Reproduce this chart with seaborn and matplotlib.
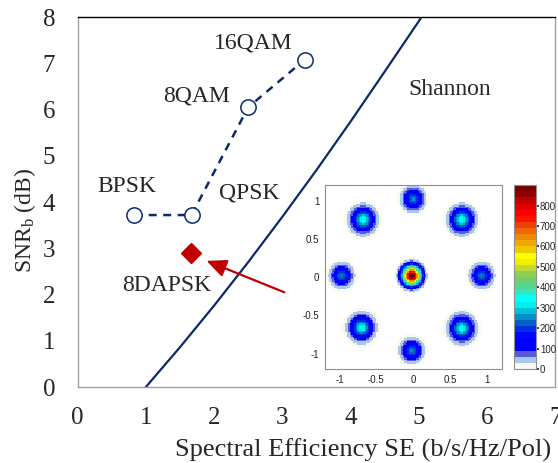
import numpy as np
import pandas as pd
import seaborn as sns
import matplotlib.pyplot as plt
from matplotlib.colors import ListedColormap

# modulation formats (measured)
fmt_names = ['BPSK', 'QPSK', '8QAM', '16QAM']
fmt_se = [0.83, 1.67, 2.5, 3.33]
fmt_snr = [3.72, 3.72, 6.05, 7.08]

# 8DAPSK point
dapsk_se = [1.66]
dapsk_snr = [2.9]

# Shannon limit
shannon_se = [1.0, 1.5, 2.0, 2.5, 3.0, 3.5, 4.0, 4.5, 5.0, 5.5]
shannon_snr = [0.0, 0.86, 1.76, 2.70, 3.68, 4.69, 5.74, 6.82, 7.91, 9.06]

# inset constellation: cluster centres, peak counts, widths
clu_x = [0.0, -0.68, 0.66, -0.97, -0.02, 0.93, -0.70, 0.66, -0.02]
clu_y = [1.02, 0.75, 0.75, 0.02, 0.02, 0.02, -0.66, -0.67, -0.96]
clu_peak = [260, 350, 350, 250, 890, 250, 340, 350, 250]
clu_sig = [0.12, 0.135, 0.135, 0.12, 0.122, 0.12, 0.135, 0.135, 0.12]
clu_shape = [1.8, 1.8, 1.8, 1.8, 2.2, 1.8, 1.8, 1.8, 1.8]
cbar_ticks = [0, 100, 200, 300, 400, 500, 600, 700, 800]

# colour bar levels, 30 counts each, 0..900
level_cols = ['#fdf8ec', '#a8c8f0', '#5a5ad6', '#0000ff', '#0000ff', '#0008f8',
              '#0030e0', '#0060c8', '#0090c8', '#00c0d8', '#00f0f0', '#00ffff',
              '#30e8c0', '#50d890', '#70d070', '#90d050', '#c0d838', '#f0f000',
              '#ffff00', '#f0c800', '#f0a800', '#f08800', '#f06800', '#f04000',
              '#ff1000', '#ff0000', '#e00000', '#c00000', '#900000', '#780000']

navy = '#0c2a6a'
darkred = '#c00000'

sns.set_theme(style='white')
plt.rcParams['font.family'] = ['Liberation Serif', 'DejaVu Serif']
plt.rcParams['mathtext.fontset'] = 'custom'
plt.rcParams['mathtext.rm'] = 'Liberation Serif'
plt.rcParams['mathtext.it'] = 'Liberation Serif:italic'

fig = plt.figure(figsize=(5.58, 4.63), dpi=100)
ax = fig.add_axes([0.139, 0.164, 0.856, 0.799])

df_fmt = pd.DataFrame({'SE': fmt_se, 'SNR': fmt_snr})
df_sh = pd.DataFrame({'SE': shannon_se, 'SNR': shannon_snr})

sns.lineplot(data=df_sh, x='SE', y='SNR', ax=ax, color=navy, lw=1.6)
sns.lineplot(data=df_fmt, x='SE', y='SNR', ax=ax, color=navy, lw=1.8,
             linestyle=(0, (3.2, 2.6)), marker='o', markersize=11,
             markerfacecolor='white', markeredgecolor=navy, markeredgewidth=1.1)
ax.plot(dapsk_se, dapsk_snr, marker='D', ms=10.5, color=darkred, ls='none')

ax.annotate('', xy=(1.89, 2.73), xytext=(3.03, 2.05),
            arrowprops=dict(arrowstyle='-|>,head_length=1.0,head_width=0.45',
                            color=darkred, lw=1.6, shrinkA=0, shrinkB=0))

lab_pos = {'BPSK': (0.72, 4.33), 'QPSK': (2.52, 4.2), '8QAM': (1.75, 6.3),
           '16QAM': (2.57, 7.45)}
for name in fmt_names:
    ax.text(*lab_pos[name], name, fontsize=17, ha='center', va='center')
ax.text(1.3, 2.2, '8DAPSK', fontsize=17, ha='center', va='center')
ax.text(5.45, 6.43, 'Shannon', fontsize=17, ha='center', va='center')

ax.set_xlim(0, 7)
ax.set_ylim(0, 8)
ax.set_xticks(range(8))
ax.set_yticks(range(9))
ax.tick_params(labelsize=18, length=0, pad=14)
ax.tick_params(axis='y', pad=16)
ax.set_xlabel('Spectral Efficiency SE (b/s/Hz/Pol)', fontsize=19)
ax.xaxis.set_label_coords(0.597, -0.138)
ax.set_ylabel('SNR$_{\\rm b}$ (dB)', fontsize=17)
ax.yaxis.set_label_coords(-0.083, 0.45)
for s in ['left', 'bottom', 'right']:
    ax.spines[s].set_color('#a0a0a0')
ax.spines['top'].set_color('black')
for s in ax.spines.values():
    s.set_linewidth(1.0)

# inset: constellation density
edges = np.linspace(-1.2, 1.2, 121)
cent = (edges[:-1] + edges[1:]) / 2
gx, gy = np.meshgrid(cent, cent[::-1])
dens = np.zeros_like(gx)
for cx, cy, pk, sg, p in zip(clu_x, clu_y, clu_peak, clu_sig, clu_shape):
    r = np.sqrt((gx - cx) ** 2 + (gy - cy) ** 2)
    dens += pk * np.exp(-(r / sg) ** p)
dens = np.where(dens < 14, np.nan, dens)

cmap = ListedColormap(level_cols)

iax = fig.add_axes([0.582, 0.203, 0.317, 0.397])
cax = fig.add_axes([0.921, 0.203, 0.039, 0.397])
sns.heatmap(dens, ax=iax, cbar_ax=cax, cmap=cmap, vmin=0, vmax=900,
            xticklabels=False, yticklabels=False)
iax.set_facecolor('white')
n = len(cent)
tv = [-1, -0.5, 0, 0.5, 1]
tl = ['-1', '-0.5', '0', '0.5', '1']
iax.set_xticks([(v + 1.2) / 2.4 * n for v in tv])
iax.set_xticklabels(tl)
iax.set_yticks([(1.2 - v) / 2.4 * n for v in tv])
iax.set_yticklabels(tl, rotation=0)
iax.tick_params(labelsize=7, length=2, pad=2, colors='#222222')
for s in iax.spines.values():
    s.set_visible(True)
    s.set_color('#909090')
    s.set_linewidth(0.8)
iax.set_xlabel('')
iax.set_ylabel('')
for lab in iax.get_xticklabels() + iax.get_yticklabels():
    lab.set_family('Liberation Sans')
cax.set_yticks(cbar_ticks)
cax.tick_params(labelsize=7, length=2, pad=1)
for lab in cax.get_yticklabels():
    lab.set_family('Liberation Sans')
cb = iax.collections[0].colorbar
cb.outline.set_visible(True)
cb.outline.set_edgecolor('#909090')
cb.outline.set_linewidth(0.8)

fig.savefig('out.png', dpi=100)
